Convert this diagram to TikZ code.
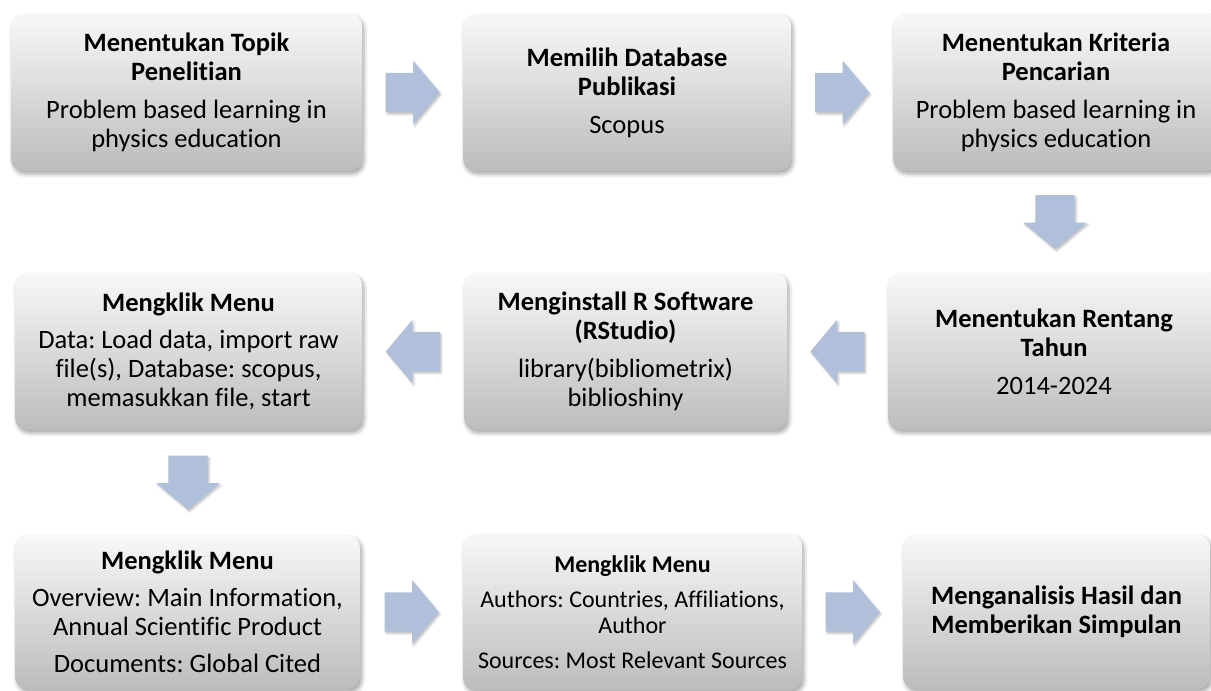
\documentclass[tikz,border=0pt]{standalone}
\usepackage{fontspec}
\setmainfont{Carlito}[Ligatures=NoCommon]
\usetikzlibrary{calc,shapes.arrows,shadows.blur}
\definecolor{arrowblue}{RGB}{176,192,219}
\definecolor{boxtop}{RGB}{248,248,248}
\definecolor{boxbottom}{RGB}{188,188,188}

\begin{document}
\frenchspacing
\begin{tikzpicture}[x=1pt,y=1pt,
	stepbox/.style={rounded corners=12pt, top color=boxtop, bottom color=boxbottom, minimum height=157pt, align=center, inner sep=3pt,
		blur shadow={shadow xshift=2pt, shadow yshift=-3pt, shadow blur radius=4pt, shadow opacity=35},
		font=\fontsize{26.5}{29}\selectfont},
	smalltext/.style={font=\fontsize{24}{26.5}\selectfont},
	blockarrow/.style={single arrow, fill=arrowblue, minimum width=63pt, minimum height=54pt, single arrow head extend=12pt,
		single arrow tip angle=100, inner xsep=0pt, inner ysep=19.5pt, anchor=tail,
		blur shadow={shadow xshift=1.5pt, shadow yshift=-2pt, shadow blur radius=2pt, shadow opacity=25}},
	rightarrow/.style={blockarrow, xshift=-27pt},
	leftarrow/.style={blockarrow, shape border rotate=180, xshift=27pt},
	downarrow/.style={blockarrow, shape border rotate=270, inner xsep=19.5pt, inner ysep=0pt, yshift=27pt}]
		\useasboundingbox (0,0) rectangle (1211,-691);
		% baris pertama
		\node[stepbox, minimum width=351pt] (topik) at (186.5,-92.5) {\textbf{Menentukan Topik}\\\textbf{Penelitian}\\[9pt]Problem based learning in\\physics education};
		\node[stepbox, minimum width=328pt] (database) at (627,-92.5) {\textbf{Memilih Database}\\\textbf{Publikasi}\\[9pt]Scopus};
		\node[stepbox, minimum width=326pt] (kriteria) at (1056,-92.5) {\textbf{Menentukan Kriteria}\\\textbf{Pencarian}\\[9pt]Problem based learning in\\physics education};
		% baris kedua
		\node[stepbox, minimum width=332pt] (tahun) at (1054,-351.5) {\textbf{Menentukan Rentang}\\\textbf{Tahun}\\[9pt]2014-2024};
		\node[stepbox, minimum width=323pt] (rstudio) at (625.5,-351.5) {\textbf{Menginstall R Software}\\\textbf{(RStudio)}\\[9pt]library(bibliometrix)\\biblioshiny};
		\node[stepbox, minimum width=347pt] (menudata) at (188.5,-351.5) {\textbf{Mengklik Menu}\\[8pt]Data: Load data, import raw\\file(s), Database: scopus,\\memasukkan file, start};
		% baris ketiga
		\node[stepbox, minimum width=345pt, minimum height=154pt] (menuoverview) at (187.5,-612) {\textbf{Mengklik Menu}\\[8pt]Overview: Main Information,\\Annual Scientific Product\\[8pt]Documents: Global Cited};
		\node[stepbox, smalltext, minimum width=339pt, minimum height=156pt] (menuauthors) at (632.5,-612) {\textbf{Mengklik Menu}\\[8pt]Authors: Countries, Affiliations,\\Author\\[8pt]Sources: Most Relevant Sources};
		\node[stepbox, minimum width=307pt, minimum height=154pt] (hasil) at (1056.5,-612) {\textbf{Menganalisis Hasil dan}\\\textbf{Memberikan Simpulan}};
		% panah
		\node[rightarrow] (a1) at ($(topik.east)!0.5!(database.west)$) {};
		\node[rightarrow] (a2) at ($(database.east)!0.5!(kriteria.west)$) {};
		\node[downarrow] (a3) at ($(kriteria.south)!0.5!(tahun.north)$) {};
		\node[leftarrow] (a4) at ($(tahun.west)!0.5!(rstudio.east)$) {};
		\node[leftarrow] (a5) at ($(rstudio.west)!0.5!(menudata.east)$) {};
		\node[downarrow] (a6) at ($(menudata.south)!0.5!(menuoverview.north)$) {};
		\node[rightarrow] (a7) at ($(menuoverview.east)!0.5!(menuauthors.west)$) {};
		\node[rightarrow] (a8) at ($(menuauthors.east)!0.5!(hasil.west)$) {};
	\end{tikzpicture}
\end{document}
